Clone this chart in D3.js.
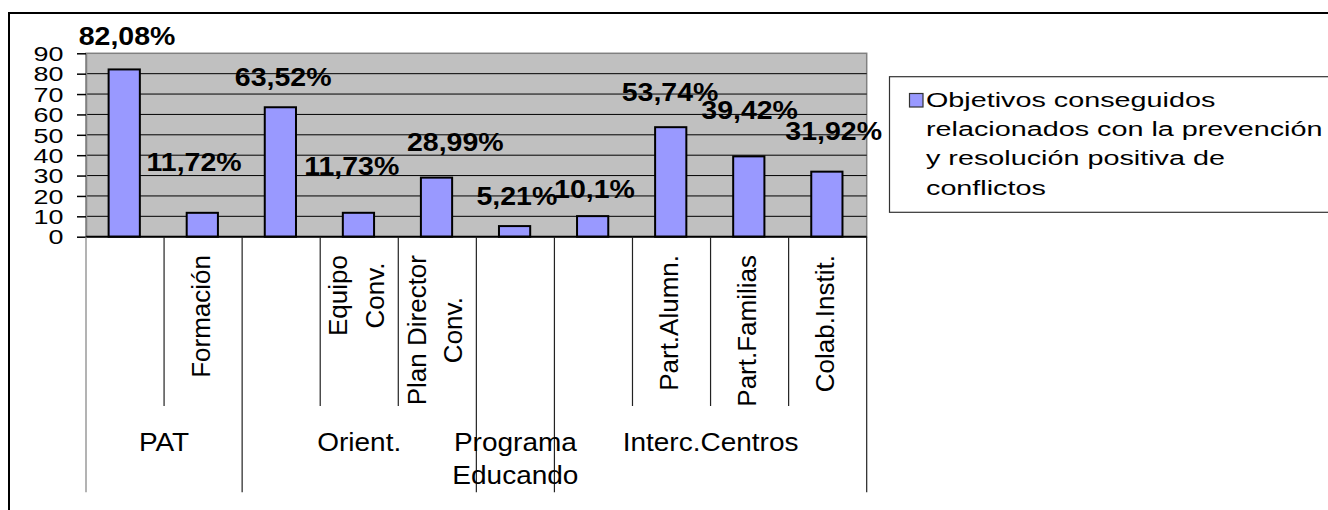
<!DOCTYPE html>
<html><head><meta charset="utf-8">
<script src="https://cdn.jsdelivr.net/npm/d3@7"></script>
<style>
body{margin:0;background:#fff}
svg{display:block}
text{font-family:"Liberation Sans",Arial,Helvetica,sans-serif;fill:#000}
</style>
</head><body>
<svg id="c" width="1328" height="510"></svg>
<script>
// ---- data ----
const categories = ["", "Formación", "", "Equipo Conv.", "Plan Director Conv.", "", "", "Part.Alumn.", "Part.Familias", "Colab.Instit."];
const groups = ["PAT", "Orient.", "Programa Educando", "Interc.Centros"];
const groupSizes = [2, 3, 1, 4];
const values = [82.08, 11.72, 63.52, 11.73, 28.99, 5.21, 10.1, 53.74, 39.42, 31.92];
const yTicks = [0, 10, 20, 30, 40, 50, 60, 70, 80, 90];
const legendLines = ["Objetivos conseguidos", "relacionados con la prevención", "y resolución positiva de", "conflictos"];
// manual label placement (offsets from bar centre / bar top, as dragged in the original)
const labelNudge = [[2,-24],[-9,-42],[2,-21],[-7.5,-38],[18,-27],[1.5,-21],[1,-18],[-1.5,-26],[0,-37],[6,-32]];

// ---- layout ----
const FONT = '"Liberation Sans",Arial,Helvetica,sans-serif';
const X0 = 86, X1 = 866.7, Y0 = 236.7, YT = 53.3;
const svg = d3.select("#c");

const x = d3.scaleBand().domain(d3.range(values.length)).range([X0, X1]).padding(0);
const y = d3.scaleLinear().domain([0, 90]).range([Y0, YT]);

const meas = svg.append("text").attr("visibility", "hidden");
function tw(s, fs, wt) { meas.attr("font-size", fs).attr("font-weight", wt || "normal").text(s); return meas.node().getComputedTextLength(); }
function wrapWords(s, maxW, fs) {
  const words = s.split(" "); const lines = []; let cur = "";
  for (const w of words) { const t = cur ? cur + " " + w : w; if (cur && tw(t, fs) > maxW) { lines.push(cur); cur = w; } else cur = t; }
  if (cur) lines.push(cur); return lines;
}

// outer frame
svg.append("rect").attr("x", 9).attr("y", 13).attr("width", 1340).attr("height", 530)
  .attr("fill", "#fff").attr("stroke", "#000").attr("stroke-width", 2);

// plot area
svg.append("rect").attr("x", X0).attr("y", YT).attr("width", X1 - X0).attr("height", Y0 - YT)
  .attr("fill", "#c0c0c0").attr("stroke", "#808080").attr("stroke-width", 1.5);

// gridlines
svg.append("g").selectAll("line").data(yTicks.filter(t => t > 0 && t < 90)).join("line")
  .attr("x1", X0).attr("x2", X1).attr("y1", d => y(d)).attr("y2", d => y(d))
  .attr("stroke", "#000").attr("stroke-width", 1);

// bars
const bw = x.bandwidth() / 2.5;
svg.append("g").selectAll("rect").data(values).join("rect")
  .attr("x", (d, i) => x(i) + x.bandwidth() / 2 - bw / 2 - 0.8)
  .attr("y", d => y(d)).attr("width", bw).attr("height", d => Y0 - y(d))
  .attr("fill", "#9999ff").attr("stroke", "#000").attr("stroke-width", 2);

// y axis
const ga = svg.append("g").attr("transform", `translate(${X0},0)`)
  .call(d3.axisLeft(y).tickValues(yTicks).tickSize(9).tickSizeOuter(0).tickPadding(0));
ga.attr("font-family", FONT).attr("font-size", 19.5);
ga.select(".domain").attr("stroke", "#808080").attr("stroke-width", 1.5);
ga.selectAll(".tick line").attr("stroke", "#000").attr("stroke-width", 1.5);
ga.selectAll(".tick text").attr("x", null).attr("dy", null)
  .attr("text-anchor", "end").attr("fill", "#000")
  .attr("transform", "translate(-22.5,7.2) scale(1.38,1)");

// x axis line
svg.append("line").attr("x1", X0).attr("x2", X1).attr("y1", Y0).attr("y2", Y0)
  .attr("stroke", "#000").attr("stroke-width", 2);

// category dividers
const groupBounds = [0]; groupSizes.forEach(s => groupBounds.push(groupBounds[groupBounds.length - 1] + s));
const bounds = d3.range(values.length + 1);
svg.append("g").selectAll("line").data(bounds).join("line")
  .attr("x1", i => i < values.length ? x(i) : X1).attr("x2", i => i < values.length ? x(i) : X1)
  .attr("y1", Y0).attr("y2", i => groupBounds.includes(i) ? 492.3 : 406)
  .attr("stroke", i => i === 0 ? "#808080" : "#222").attr("stroke-width", 1.2);

// sub-category labels (rotated)
const subFs = 26, subTop = 255, subLH = 36.5;
const subG = svg.append("g").attr("font-size", subFs);
categories.forEach((c, i) => {
  if (!c) return;
  const lines = wrapWords(c, 153, subFs);
  const maxLen = d3.max(lines, l => tw(l, subFs));
  const midY = subTop + maxLen / 2;
  const cx = x(i) + x.bandwidth() / 2;
  lines.forEach((l, j) => {
    const bx = cx + 6.5 + (j - (lines.length - 1) / 2) * subLH;
    subG.append("text").attr("text-anchor", "middle")
      .attr("transform", `translate(${bx},${midY}) rotate(-90)`).text(l);
  });
});

// group labels
const grpFs = 25, grpSx = 1.12;
const grpG = svg.append("g").attr("font-size", grpFs);
groups.forEach((g, k) => {
  const a = x(groupBounds[k]);
  const b = groupBounds[k + 1] < values.length ? x(groupBounds[k + 1]) : X1;
  const lines = wrapWords(g, (b - a) / grpSx, grpFs);
  lines.forEach((l, j) => {
    grpG.append("text").attr("text-anchor", "middle")
      .attr("transform", `translate(${(a + b) / 2},${450.5 + j * 33.3}) scale(${grpSx},1)`).text(l);
  });
});

// data labels
svg.append("g").attr("font-size", 25).attr("font-weight", "bold")
  .selectAll("text").data(values).join("text")
  .attr("text-anchor", "middle")
  .attr("transform", (d, i) => `translate(${x(i) + x.bandwidth() / 2 + labelNudge[i][0]},${y(d) + labelNudge[i][1]}) scale(1.14,1)`)
  .text(d => String(d).replace(".", ",") + "%");

// legend
const lg = svg.append("g");
lg.append("rect").attr("x", 889.5).attr("y", 76.7).attr("width", 460).attr("height", 135.6)
  .attr("fill", "#fff").attr("stroke", "#333").attr("stroke-width", 1.2);
lg.append("rect").attr("x", 909.5).attr("y", 93.5).attr("width", 13.5).attr("height", 13.5)
  .attr("fill", "#9999ff").attr("stroke", "#333").attr("stroke-width", 1.2);
lg.selectAll("text.l").data(legendLines).join("text").attr("class", "l")
  .attr("font-size", 21)
  .attr("transform", (d, j) => `translate(926,${107 + j * 29.2}) scale(1.37,1)`)
  .text(d => d);

meas.remove();
</script>
</body></html>
